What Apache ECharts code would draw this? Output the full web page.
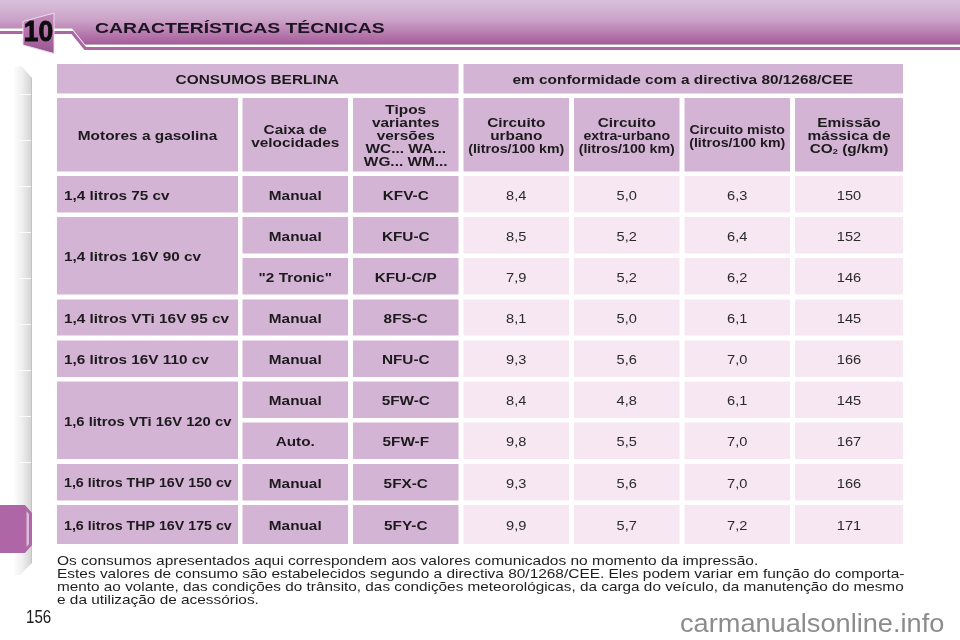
<!DOCTYPE html>
<html>
<head>
<meta charset="utf-8">
<style>html,body{margin:0;padding:0;background:#fff}#c{width:960px;height:640px}</style>
<script src="https://cdn.jsdelivr.net/npm/echarts@6/dist/echarts.min.js"></script>
</head>
<body>
<div id="c"></div>
<script>
// ---- content ----
const pageTitle = 'CARACTERÍSTICAS TÉCNICAS';
const chapterNumber = '10';
const pageNumber = '156';
const watermark = 'carmanualsonline.info';
const bannerLabels = ['CONSUMOS BERLINA', 'em conformidade com a directiva 80/1268/CEE'];
const headerLabels = [
  'Motores a gasolina',
  'Caixa de\nvelocidades',
  'Tipos\nvariantes\nversões\nWC... WA...\nWG... WM...',
  'Circuito\nurbano\n(litros/100 km)',
  'Circuito\nextra-urbano\n(litros/100 km)',
  'Circuito misto\n(litros/100 km)',
  'Emissão\nmássica de\nCO{sub|2} (g/km)'
];
const engines = ['1,4 litros 75 cv', '1,4 litros 16V 90 cv', '1,4 litros VTi 16V 95 cv', '1,6 litros 16V 110 cv', '1,6 litros VTi 16V 120 cv', '1,6 litros THP 16V 150 cv', '1,6 litros THP 16V 175 cv'];
const engineRowSpans = [1, 2, 1, 1, 2, 1, 1];
const gearboxes = ['Manual', 'Manual', '"2 Tronic"', 'Manual', 'Manual', 'Manual', 'Auto.', 'Manual', 'Manual'];
const variants = ['KFV-C', 'KFU-C', 'KFU-C/P', '8FS-C', 'NFU-C', '5FW-C', '5FW-F', '5FX-C', '5FY-C'];
const urban = [8.4, 8.5, 7.9, 8.1, 9.3, 8.4, 9.8, 9.3, 9.9];
const extraUrban = [5.0, 5.2, 5.2, 5.0, 5.6, 4.8, 5.5, 5.6, 5.7];
const mixed = [6.3, 6.4, 6.2, 6.1, 7.0, 6.1, 7.0, 7.0, 7.2];
const co2 = [150, 152, 146, 145, 166, 145, 167, 166, 171];
const footnote = [
  'Os consumos apresentados aqui correspondem aos valores comunicados no momento da impressão.',
  'Estes valores de consumo são estabelecidos segundo a directiva 80/1268/CEE. Eles podem variar em função do comporta-',
  'mento ao volante, das condições do trânsito, das condições meteorológicas, da carga do veículo, da manutenção do mesmo',
  'e da utilização de acessórios.'
];

// ---- layout of the table on its axes ----
const columnSpans = [[57, 238], [242.5, 348], [353, 458.5], [463.5, 569], [574, 679.5], [684.5, 790], [795, 903]];
const bannerRow = [64, 93.5];
const headerRow = [98, 171.5];
const bodyRows = [[176, 212.5], [217, 253.5], [258, 294.5], [299.5, 335.5], [340.5, 377], [381.5, 418], [422.5, 459], [464, 500.5], [505, 544]];
const footnoteStretch = [1.148, 1.143, 1.135, 1.14];

const FONT = '"Liberation Sans", Arial, sans-serif';
const kinds = {
  banner: {fill: '#d3b4d4', size: 13.5, sx: 1.14, weight: 'bold', color: '#1c1a1c', dx: -0.5},
  head:   {fill: '#d3b4d4', size: 13.5, sx: 1.14, weight: 'bold', color: '#1c1a1c', lh: 12.9},
  engine: {fill: '#d3b4d4', size: 13.5, sx: 1.135, weight: 'bold', color: '#1c1a1c', left: 7},
  vti:    {fill: '#d3b4d4', size: 13.5, sx: 1.095, weight: 'bold', color: '#1c1a1c', left: 7},
  tight:  {fill: '#d3b4d4', size: 13, sx: 1.095, weight: 'bold', color: '#1c1a1c', left: 7},
  key:    {fill: '#d3b4d4', size: 13.5, sx: 1.135, weight: 'bold', color: '#1c1a1c'},
  value:  {fill: '#f6e7f2', size: 13.5, sx: 1.08, weight: 'normal', color: '#2a2a2a'}
};
const tightHeadLine = /litros|extra|misto/;

const fmt = v => v.toFixed(1).replace('.', ',');
const cells = [];
function addCell(cols, rows, text, kind) {
  cells.push({x0: cols[0], x1: cols[1], y0: rows[0], y1: rows[1], text, kind});
}
addCell([columnSpans[0][0], columnSpans[2][1]], bannerRow, bannerLabels[0], 'banner');
addCell([columnSpans[3][0], columnSpans[6][1]], bannerRow, bannerLabels[1], 'banner');
headerLabels.forEach((t, i) => addCell(columnSpans[i], headerRow, t, 'head'));
let rowCursor = 0;
engines.forEach((name, i) => {
  const span = engineRowSpans[i];
  const kind = name.indexOf('THP') >= 0 ? 'tight' : (name.indexOf('120') >= 0 ? 'vti' : 'engine');
  addCell(columnSpans[0], [bodyRows[rowCursor][0], bodyRows[rowCursor + span - 1][1]], name, kind);
  rowCursor += span;
});
gearboxes.forEach((t, r) => addCell(columnSpans[1], bodyRows[r], t, 'key'));
variants.forEach((t, r) => addCell(columnSpans[2], bodyRows[r], t, 'key'));
urban.forEach((v, r) => addCell(columnSpans[3], bodyRows[r], fmt(v), 'value'));
extraUrban.forEach((v, r) => addCell(columnSpans[4], bodyRows[r], fmt(v), 'value'));
mixed.forEach((v, r) => addCell(columnSpans[5], bodyRows[r], fmt(v), 'value'));
co2.forEach((v, r) => addCell(columnSpans[6], bodyRows[r], String(v), 'value'));

function renderCell(params, api) {
  const c = cells[params.dataIndex];
  const k = kinds[c.kind];
  const a = api.coord([api.value(0), api.value(1)]);
  const b = api.coord([api.value(2), api.value(3)]);
  const children = [{
    type: 'rect',
    shape: {x: a[0], y: a[1], width: b[0] - a[0], height: b[1] - a[1]},
    style: {fill: k.fill}
  }];
  const lines = c.text.split('\n');
  const lh = k.lh || 13;
  const cy = (a[1] + b[1]) / 2 + 1.6;
  lines.forEach((line, i) => {
    const sx = c.kind === 'head' && tightHeadLine.test(line) ? 1.05 : k.sx;
    children.push({
      type: 'text',
      x: k.left ? a[0] + k.left : (a[0] + b[0]) / 2 + (k.dx || 0),
      y: cy + (i - (lines.length - 1) / 2) * lh,
      scaleX: sx,
      style: {
        text: line,
        align: k.left ? 'left' : 'center',
        verticalAlign: 'middle',
        font: k.weight + ' ' + k.size + 'px ' + FONT,
        fill: k.color,
        rich: {sub: {font: 'bold 8px ' + FONT, fill: k.color, padding: [6, 0, 0, 0]}}
      }
    });
  });
  return {type: 'group', children};
}

// ---- page furniture ----
const txt = (text, x, y, font, sx, fill, align, extra) => ({
  type: 'text', x, y, scaleX: sx, z: 20,
  style: Object.assign({text, font, fill, align: align || 'left', verticalAlign: 'middle'}, extra || {})
});
const poly = (points, fill, z) => ({type: 'polygon', z: z || 1, shape: {points}, style: {fill}});
const lin = (x, y, x2, y2, stops) => new echarts.graphic.LinearGradient(x, y, x2, y2, stops.map(c => ({offset: c[0], color: c[1]})));

const notchYs = [];
for (let n = 0; n < 9; n++) notchYs.push(94 + n * 46);

const furniture = [
  // header band
  poly([[0, 0], [960, 0], [960, 44.5], [85, 44.5], [72, 28.5], [0, 28.5]],
    lin(0, 0, 0, 1, [[0, '#d9c1da'], [0.45, '#cba2c8'], [0.85, '#b06ea6'], [0.97, '#a6619c'], [1, '#8f5088']])),
  poly([[0, 31], [73, 31], [86, 47], [960, 47], [960, 50], [84.5, 50], [71.5, 34], [0, 34]], '#ac66a4', 2),
  // chapter badge
  poly([[23, 21.5], [54, 13], [54, 53.5], [23, 45]], lin(0, 0, 0, 1, [[0, '#c48fbc'], [0.6, '#ae6aa6'], [1, '#96558e']]), 3),
  {type: 'polyline', z: 4, shape: {points: [[23, 21.5], [54, 13], [54, 53.5], [23, 45], [23, 21.5]]}, style: {fill: 'none', stroke: '#eadcea', lineWidth: 1}},
  txt(chapterNumber, 38.5, 33, 'bold 30px ' + FONT, 0.88, '#0c0c0c', 'center', {stroke: '#0c0c0c', lineWidth: 0.8}),
  txt(pageTitle, 95, 28.5, 'bold 15.5px ' + FONT, 1.25, '#1a1520'),
  // side strip
  poly([[13, 66.5], [22, 66.5], [32, 78], [32, 563], [20, 575], [13, 575]],
    lin(0, 0, 1, 0, [[0, '#ffffff'], [0.5, '#eeeeee'], [0.92, '#d6d6d6'], [1, '#b9b9b9']]), 1)
];
notchYs.forEach(y => furniture.push({type: 'rect', z: 2, shape: {x: 18, y, width: 13, height: 1}, style: {fill: '#fbfbfb'}}));
furniture.push(
  poly([[0, 505], [25, 505], [32, 513], [32, 545], [25, 553], [0, 553]], '#ae66a6', 3),
  poly([[26.5, 511], [29, 514], [29, 544], [26.5, 547]], '#dcbcd8', 4),
  txt(pageNumber, 26, 618, '18px ' + FONT, 0.84, '#1a1a1a'),
  txt(watermark, 680, 625, '26px ' + FONT, 1.045, '#8c8c8c')
);
footnote.forEach((line, i) => furniture.push(txt(line, 57, 561 + i * 13, '13.5px ' + FONT, footnoteStretch[i], '#1e1e1e')));

const chart = echarts.init(document.getElementById('c'), null, {renderer: 'canvas', width: 960, height: 640});
chart.setOption({
  animation: false,
  backgroundColor: '#ffffff',
  grid: {left: 0, right: 0, top: 0, bottom: 0},
  xAxis: {type: 'value', min: 0, max: 960, show: false},
  yAxis: {type: 'value', min: 0, max: 640, inverse: true, show: false},
  graphic: furniture,
  series: [{
    type: 'custom',
    coordinateSystem: 'cartesian2d',
    clip: false,
    silent: true,
    renderItem: renderCell,
    encode: {x: [0, 2], y: [1, 3]},
    data: cells.map(c => [c.x0, c.y0, c.x1, c.y1])
  }]
});
</script>
</body>
</html>
